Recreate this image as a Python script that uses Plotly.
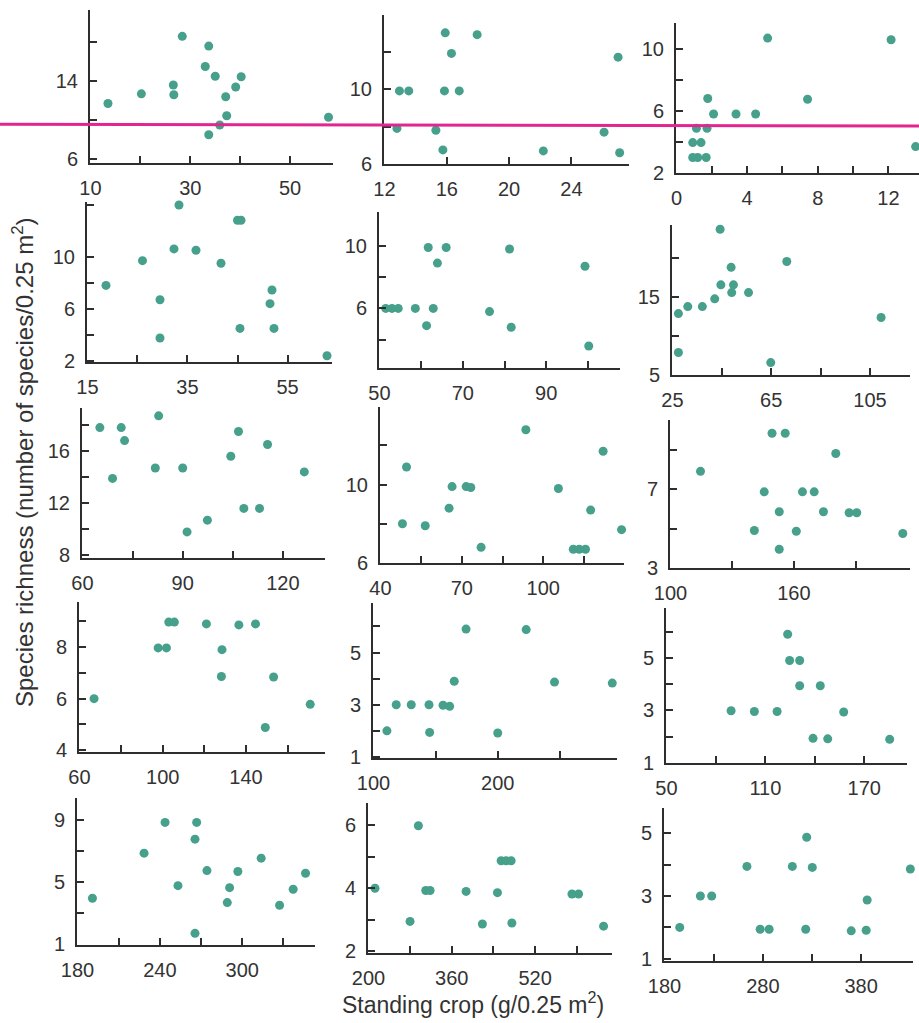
import plotly.graph_objects as go

# ---- standing crop (x) and species richness (y) for the 15 stands ----
p1_x = [13.5, 20.2, 26.6, 26.7, 28.4, 33.7, 33.0, 35.0, 40.2, 39.1, 37.1, 37.3, 35.9, 33.7, 57.7]
p1_y = [11.7, 12.7, 13.6, 12.6, 18.6, 17.6, 15.5, 14.5, 14.45, 13.4, 12.4, 10.45, 9.5, 8.5, 10.3]

p2_x = [12.96, 13.56, 12.8, 15.3, 15.75, 15.9, 16.3, 15.85, 16.8, 17.95, 27.0, 26.1, 27.1, 22.2]
p2_y = [9.9, 9.9, 7.9, 7.8, 6.75, 13.0, 11.9, 9.9, 9.9, 12.9, 11.7, 7.7, 6.6, 6.7]

p3_x = [5.16, 12.15, 13.54, 7.42, 1.77, 2.1, 3.37, 4.48, 1.13, 1.73, 0.92, 1.39, 0.92, 1.2, 1.68]
p3_y = [10.69, 10.58, 3.7, 6.75, 6.8, 5.8, 5.8, 5.8, 4.88, 4.88, 3.96, 3.96, 3.0, 3.0, 3.0]

p4_x = [18.7, 26.0, 29.5, 29.5, 33.3, 32.3, 36.7, 41.7, 45.0, 45.7, 45.5, 51.9, 51.5, 52.3, 62.9]
p4_y = [7.8, 9.7, 6.7, 3.76, 13.97, 10.6, 10.5, 9.5, 12.8, 12.8, 4.5, 7.45, 6.4, 4.5, 2.4]

p5_x = [51.5, 53.0, 54.5, 58.6, 62.9, 61.3, 61.7, 63.9, 66.0, 81.2, 76.4, 81.6, 99.3, 100.2]
p5_y = [6.0, 6.0, 6.0, 6.0, 6.0, 4.9, 9.9, 8.9, 9.9, 9.8, 5.8, 4.8, 8.7, 3.6]

p6_x = [44.3, 71.3, 121.5, 48.75, 44.6, 49.7, 49.0, 55.8, 42.1, 37.1, 31.2, 27.4, 27.4, 64.8, 109.5]
p6_y = [23.76, 19.6, 18.3, 18.85, 16.6, 16.6, 15.6, 15.6, 14.8, 13.8, 13.8, 12.9, 7.9, 6.6, 12.4]

p7_x = [65.2, 71.6, 72.6, 69.0, 82.8, 81.8, 90.0, 91.3, 97.4, 104.4, 106.7, 108.3, 113.0, 115.4, 126.4]
p7_y = [17.8, 17.8, 16.8, 13.9, 18.7, 14.7, 14.7, 9.8, 10.7, 15.6, 17.5, 11.6, 11.6, 16.5, 14.4]

p8_x = [49.6, 48.1, 56.5, 65.3, 66.4, 71.6, 73.3, 77.1, 93.6, 105.6, 122.1, 117.5, 128.9, 111.1, 113.3, 115.6]
p8_y = [10.9, 8.0, 7.9, 8.8, 9.9, 9.9, 9.85, 6.8, 12.8, 9.8, 11.7, 8.7, 7.7, 6.7, 6.7, 6.7]

p9_x = [114.6, 149.4, 155.8, 180.4, 145.6, 164.2, 169.9, 152.9, 174.4, 186.9, 190.6, 140.8, 161.2, 152.9, 213.0]
p9_y = [7.9, 9.83, 9.83, 8.8, 6.86, 6.86, 6.86, 5.85, 5.85, 5.8, 5.8, 4.9, 4.86, 3.95, 4.75]

p10_x = [67.0, 97.8, 101.8, 102.9, 105.6, 121.0, 136.6, 144.6, 128.5, 128.2, 153.3, 149.3, 170.9, 178.6]
p10_y = [6.0, 7.97, 7.97, 8.97, 8.97, 8.9, 8.86, 8.9, 7.9, 6.86, 6.84, 4.88, 5.78, 8.8]

p11_x = [110.8, 118.3, 130.4, 144.7, 156.0, 161.3, 145.2, 165.0, 174.5, 222.9, 245.7, 292.2, 200.0]
p11_y = [2.0, 3.0, 3.0, 3.0, 2.98, 2.94, 1.94, 3.9, 5.9, 5.88, 3.87, 3.83, 1.92]

p12_x = [89.2, 103.3, 117.1, 123.5, 124.7, 130.8, 130.8, 143.3, 157.5, 138.9, 147.8, 185.4]
p12_y = [2.99, 2.96, 2.96, 5.9, 4.9, 4.9, 3.94, 3.94, 2.94, 1.94, 1.92, 1.9]

p13_x = [190.9, 228.5, 243.8, 253.2, 266.8, 265.6, 265.6, 274.3, 296.8, 290.8, 289.1, 313.8, 327.2, 337.1, 346.1]
p13_y = [3.95, 6.85, 8.83, 4.76, 8.83, 7.75, 1.69, 5.73, 5.67, 4.63, 3.67, 6.53, 3.5, 4.53, 5.56]

p14_x = [212.5, 279.8, 295.8, 310.0, 318.3, 387.5, 418.8, 447.7, 454.8, 464.4, 474.0, 475.4, 590.8, 603.5, 651.5]
p14_y = [4.0, 2.95, 5.98, 3.93, 3.93, 3.9, 2.87, 3.86, 4.87, 4.87, 4.87, 2.9, 3.82, 3.82, 2.8]

p15_x = [195.5, 216.5, 228.0, 263.8, 277.3, 286.4, 310.0, 324.6, 330.3, 323.6, 369.9, 385.1, 386.1, 430.0]
p15_y = [2.0, 3.0, 3.0, 3.94, 1.94, 1.94, 3.94, 4.87, 3.91, 1.94, 1.89, 1.91, 2.87, 3.86]

# ---- tick labels (labelled, unlabelled) per panel ----
p1_xticks, p1_xminor = [10, 30, 50], [20, 40]
p1_yticks, p1_yminor = [6, 14], [10, 18]
p2_xticks, p2_xminor = [12, 16, 20, 24], []
p2_yticks, p2_yminor = [6, 10], [8, 12]
p3_xticks, p3_xminor = [0, 4, 8, 12], [2, 6, 10]
p3_yticks, p3_yminor = [2, 6, 10], [4, 8]
p4_xticks, p4_xminor = [15, 35, 55], [25, 45]
p4_yticks, p4_yminor = [2, 6, 10], [4, 8, 14]
p5_xticks, p5_xminor = [50, 70, 90], [60, 80, 100]
p5_yticks, p5_yminor = [2, 6, 10], [4, 8]
p6_xticks, p6_xminor = [25, 65, 105], [45, 85]
p6_yticks, p6_yminor = [5, 15], [10, 20]
p7_xticks, p7_xminor = [60, 90, 120], [75, 105]
p7_yticks, p7_yminor = [8, 12, 16], [10, 14, 18]
p8_xticks, p8_xminor = [40, 70, 100], [55, 85, 115]
p8_yticks, p8_yminor = [6, 10], [8, 12]
p9_xticks, p9_xminor = [100, 160], [130, 190]
p9_yticks, p9_yminor = [3, 7], [5, 9]
p10_xticks, p10_xminor = [60, 100, 140], [80, 120, 160]
p10_yticks, p10_yminor = [4, 6, 8], [5, 7, 9]
p11_xticks, p11_xminor = [100, 200], [150, 250]
p11_yticks, p11_yminor = [1, 3, 5], [2, 4, 6]
p12_xticks, p12_xminor = [50, 110, 170], [80, 140]
p12_yticks, p12_yminor = [1, 3, 5], [2, 4, 6]
p13_xticks, p13_xminor = [180, 240, 300], [210, 270, 330]
p13_yticks, p13_yminor = [1, 5, 9], [3, 7]
p14_xticks, p14_xminor = [200, 360, 520], [280, 440, 600]
p14_yticks, p14_yminor = [2, 4, 6], [3, 5]
p15_xticks, p15_xminor = [180, 280, 380], [230, 330]
p15_yticks, p15_yminor = [1, 3, 5], [2, 4]

x_title = "Standing crop (g/0.25 m<sup>2</sup>)"
y_title = "Species richness (number of species/0.25 m<sup>2</sup>)"

# ---- page geometry: plot boxes in pixels (left, right, top, bottom) and axis ranges ----
W, H = 919, 1023
panels = [
    (p1_x, p1_y, p1_xticks, p1_xminor, p1_yticks, p1_yminor, (90, 333, 10, 163), (10, 58.6), (5.6, 21.3)),
    (p2_x, p2_y, p2_xticks, p2_xminor, p2_yticks, p2_yminor, (384, 629, 15, 164), (12, 27.7), (6.0, 13.95)),
    (p3_x, p3_y, p3_xticks, p3_xminor, p3_yticks, p3_yminor, (676, 919, 23, 173), (0, 13.73), (2.0, 11.66)),
    (p4_x, p4_y, p4_xticks, p4_xminor, p4_yticks, p4_yminor, (87, 332, 202, 362), (15, 63.9), (1.92, 14.2)),
    (p5_x, p5_y, p5_xticks, p5_xminor, p5_yticks, p5_yminor, (379, 620, 212, 368), (50, 107.7), (2.19, 12.17)),
    (p6_x, p6_y, p6_xticks, p6_xminor, p6_yticks, p6_yminor, (672, 910, 225, 375), (25, 121.2), (5.0, 24.3)),
    (p7_x, p7_y, p7_xticks, p7_xminor, p7_yticks, p7_yminor, (82, 325, 408, 558), (60, 132.6), (7.8, 19.3)),
    (p8_x, p8_y, p8_xticks, p8_xminor, p8_yticks, p8_yminor, (380, 624, 407, 563), (40, 129.8), (6.0, 13.96)),
    (p9_x, p9_y, p9_xticks, p9_xminor, p9_yticks, p9_yminor, (670, 910, 420, 568), (100, 216.5), (3.0, 10.5)),
    (p10_x, p10_y, p10_xticks, p10_xminor, p10_yticks, p10_yminor, (79, 325, 602, 752), (60, 178), (3.93, 9.75)),
    (p11_x, p11_y, p11_xticks, p11_xminor, p11_yticks, p11_yminor, (373, 617, 603, 758), (100, 296), (0.96, 6.9)),
    (p12_x, p12_y, p12_xticks, p12_xminor, p12_yticks, p12_yminor, (666, 907, 608, 763), (50, 195.9), (1.0, 6.9)),
    (p13_x, p13_y, p13_xticks, p13_xminor, p13_yticks, p13_yminor, (77, 315, 798, 945), (180, 353), (0.94, 10.4)),
    (p14_x, p14_y, p14_xticks, p14_xminor, p14_yticks, p14_yminor, (368, 612, 803, 953), (200, 667.7), (1.95, 6.7)),
    (p15_x, p15_y, p15_xticks, p15_xminor, p15_yticks, p15_yminor, (664, 913, 808, 961), (180, 432.7), (0.93, 5.8)),
]

DOT = "#46a08b"
INK = "#2e2e2e"
FONT = "Liberation Sans, Arial, Helvetica, sans-serif"


def tick_spec(labelled, unlabelled):
    vals = sorted(labelled + unlabelled)
    text = [str(v) if v in labelled else "" for v in vals]
    return vals, text


fig = go.Figure()
layout = {}
for i, (xs, ys, xt, xm, yt, ym, box, xr, yr) in enumerate(panels, start=1):
    left, right, top, bottom = box
    sfx = "" if i == 1 else str(i)
    fig.add_trace(go.Scatter(
        x=xs, y=ys, mode="markers", xaxis="x" + sfx, yaxis="y" + sfx,
        marker=dict(size=9, color=DOT, line=dict(width=0)),
        cliponaxis=False, showlegend=False, hoverinfo="x+y",
    ))
    xv, xtxt = tick_spec(xt, xm)
    yv, ytxt = tick_spec(yt, ym)
    xspan = xr[1] - xr[0]
    common = dict(
        showline=True, linecolor=INK, linewidth=2, showgrid=False, zeroline=False,
        ticks="inside", ticklen=7, tickwidth=2, tickcolor=INK,
        tickfont=dict(family=FONT, size=20, color="#333333"),
        tickmode="array", automargin=False, fixedrange=True,
    )
    layout["xaxis" + sfx] = dict(
        common, domain=[left / W, right / W], anchor="y" + sfx,
        range=[xr[0] - 0.002 * xspan, xr[1]], tickvals=xv, ticktext=xtxt,
        ticklabelstandoff=6,
    )
    layout["yaxis" + sfx] = dict(
        common, domain=[1 - bottom / H, 1 - top / H], anchor="x" + sfx,
        range=[yr[0], yr[1]], tickvals=yv, ticktext=ytxt,
        ticklabelstandoff=6,
    )

fig.update_layout(
    **layout,
    width=W, height=H,
    margin=dict(l=0, r=0, t=0, b=0),
    paper_bgcolor="white", plot_bgcolor="rgba(0,0,0,0)",
    font=dict(family=FONT, color="#333333"),
    annotations=[
        dict(text=y_title, xref="paper", yref="paper", x=23 / W, y=1 - 462 / H,
             textangle=-90, showarrow=False, font=dict(size=24, color="#333333"),
             xanchor="center", yanchor="middle"),
        dict(text=x_title, xref="paper", yref="paper", x=473 / W, y=1 - 1003 / H,
             showarrow=False, font=dict(size=23, color="#333333"),
             xanchor="center", yanchor="middle"),
    ],
    shapes=[
        dict(type="line", xref="paper", yref="paper", x0=0, x1=1,
             y0=1 - 124.3 / H, y1=1 - 126 / H, layer="above",
             line=dict(color="#e2268f", width=3)),
    ],
)

fig.write_html("out.html")
